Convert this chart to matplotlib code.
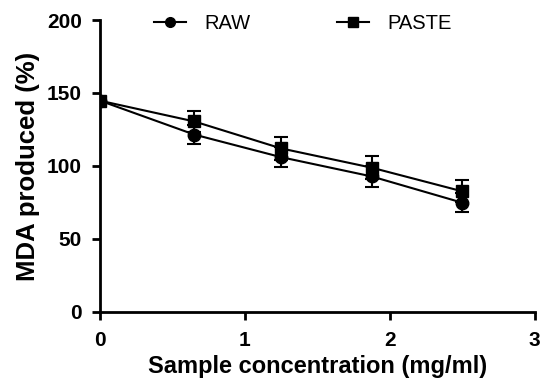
import matplotlib
matplotlib.use("Agg")
import matplotlib.pyplot as plt
from matplotlib.lines import Line2D

conc = [0, 0.65, 1.25, 1.875, 2.5]
raw = [144.7, 121.5, 106.0, 92.8, 74.8]
raw_err = [0, 6.5, 7.0, 7.0, 6.5]
paste = [144.7, 130.5, 112.0, 98.8, 82.6]
paste_err = [0, 7.0, 8.0, 8.0, 7.5]
xticks = [0, 1, 2, 3]
yticks = [0, 50, 100, 150, 200]

plt.rcParams['font.family'] = ['Liberation Sans', 'DejaVu Sans']

fig = plt.figure(figsize=(5.44, 3.78), dpi=100)
ax = fig.add_axes([0.184, 0.175, 0.799, 0.772])

ax.errorbar(conc, raw, yerr=raw_err, color='black', marker='o', markersize=9,
            lw=1.5, capsize=5, capthick=1.5, elinewidth=1.5, label='RAW')
ax.errorbar(conc, paste, yerr=paste_err, color='black', marker='s', markersize=8.5,
            lw=1.5, capsize=5, capthick=1.5, elinewidth=1.5, label='PASTE')

ax.set_xlim(0, 3)
ax.set_ylim(0, 200)
ax.set_xticks(xticks)
ax.set_yticks(yticks)
for s in ['top', 'right']:
    ax.spines[s].set_visible(False)
for s in ['left', 'bottom']:
    ax.spines[s].set_linewidth(2)
ax.tick_params(width=2, length=6, labelsize=15)
ax.tick_params(axis='x', pad=7.5)
ax.tick_params(axis='y', pad=7)
for lab in ax.get_xticklabels() + ax.get_yticklabels():
    lab.set_fontweight('bold')
ax.set_xlabel('Sample concentration (mg/ml)', fontsize=17, fontweight='bold', labelpad=4)
ax.set_ylabel('MDA produced (%)', fontsize=18.5, fontweight='bold', labelpad=5)

handles = [Line2D([], [], color='black', lw=1.5, marker='o', markersize=7),
           Line2D([], [], color='black', lw=1.5, marker='s', markersize=7)]
leg = fig.legend(handles, ['RAW', 'PASTE'], loc='center', bbox_to_anchor=(0.556, 0.939), ncol=2,
                 frameon=False, fontsize=14.5, handlelength=1.6, columnspacing=4.3,
                 handletextpad=0.9)

fig.savefig('out.png', dpi=100)
